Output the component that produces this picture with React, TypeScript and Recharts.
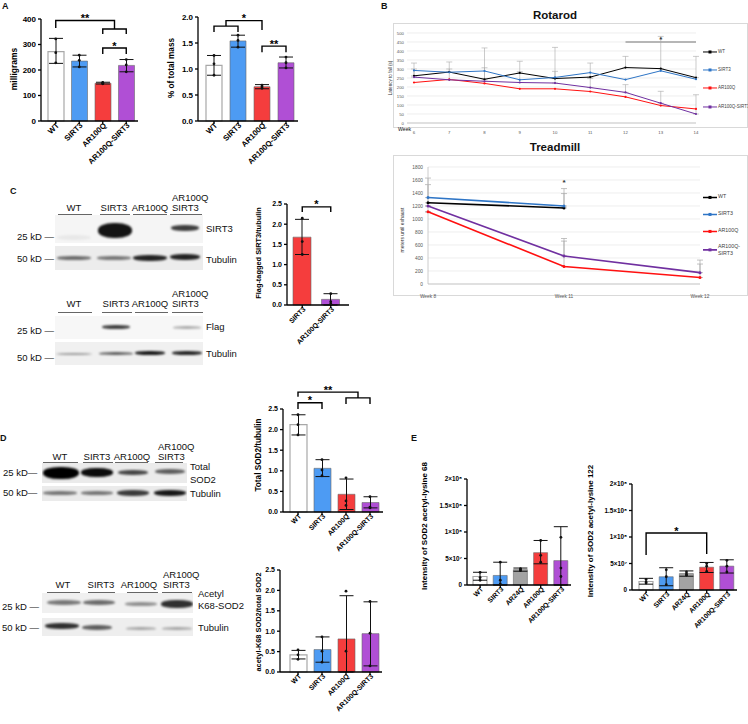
import React from 'react'
import {
  Bar,
  CartesianGrid,
  Cell,
  ComposedChart,
  ErrorBar,
  Line,
  LineChart,
  ReferenceDot,
  ReferenceLine,
  XAxis,
  YAxis,
} from 'recharts'

const FONT = '"Liberation Sans", Arial, Helvetica, sans-serif'

const WHITE = '#ffffff'
const BLUE = '#4d9bf3'
const RED = '#f53d3d'
const PURPLE = '#b04fd5'
const GREY = '#a3a3a3'

// A: muscle mass
const groups4 = ['WT', 'SIRT3', 'AR100Q', 'AR100Q-SIRT3']
const colors4 = [WHITE, BLUE, RED, PURPLE]
const massMean = [272, 235, 148, 218]
const massLo = [226, 212, 145, 193]
const massHi = [324, 258, 152, 241]
const massPts = [[322, 268, 228], [258, 238, 212], [151, 148, 146], [241, 220, 193]]
const massTicks = [0, 100, 200, 300, 400]

const pctMean = [1.07, 1.54, 0.66, 1.12]
const pctLo = [0.88, 1.42, 0.62, 1.02]
const pctHi = [1.26, 1.65, 0.7, 1.23]
const pctPts = [[1.26, 1.1, 0.88], [1.65, 1.55, 1.42], [0.69, 0.66, 0.63], [1.23, 1.12, 1.02]]
const pctTicks = [0, 0.5, 1, 1.5, 2]

// B: rotarod / treadmill
const rotWeeks = ['6', '7', '8', '9', '10', '11', '12', '13', '14']
const rotWT = [262, 283, 243, 278, 247, 255, 308, 302, 252]
const rotSIRT3 = [292, 282, 289, 240, 253, 280, 241, 290, 243]
const rotAR100Q = [225, 242, 220, 190, 190, 175, 145, 97, 78]
const rotARS = [255, 240, 232, 225, 222, 197, 170, 110, 50]
const rotErrWT = [71, 56, 174, 65, 173, 78, 62, 179, 118]
const rotErrARS = [45, 60, 75, 60, 65, 50, 43, 66, 107]
const rotTicks = [0, 50, 100, 150, 200, 250, 300, 350, 400, 450, 500]

const trWeeks = ['Week 8', 'Week 11', 'Week 12']
const trWT = [1250, 1170, null]
const trSIRT3 = [1330, 1200, null]
const trAR100Q = [1110, 270, 100]
const trARS = [1200, 430, 175]
const trErrWT = [279, 221, 0]
const trErrSIRT3 = [300, 268, 0]
const trErrAR100Q = [0, 390, 207]
const trErrARS = [0, 270, 193]
const trTicks = [0, 200, 400, 600, 800, 1000, 1200, 1400, 1600, 1800]

// C: flag-tagged SIRT3
const groupsC = ['SIRT3', 'AR100Q-SIRT3']
const flagMean = [1.68, 0.14]
const flagLo = [1.25, 0.0]
const flagHi = [2.12, 0.28]
const flagPts = [[2.15, 1.57, 1.25], [0.28, 0.08, 0.03]]
const ratioTicks = [0, 0.5, 1, 1.5, 2, 2.5]

// D: SOD2
const sodMean = [2.12, 1.06, 0.43, 0.23]
const sodLo = [1.87, 0.86, 0.06, 0.1]
const sodHi = [2.36, 1.27, 0.8, 0.37]
const sodPts = [[2.36, 2.12, 1.87], [1.27, 1.02, 0.88], [0.83, 0.27, 0.16], [0.37, 0.12, 0.1]]

const ackMean = [0.42, 0.55, 0.81, 0.94]
const ackLo = [0.32, 0.24, 0, 0.15]
const ackHi = [0.53, 0.86, 1.87, 1.72]
const ackPts = [[0.54, 0.42, 0.31], [0.86, 0.51, 0.24], [1.98, 0.51, null], [1.73, 0.95, 0.15]]

// E: acetyl-lysine intensity
const groups5 = ['WT', 'SIRT3', 'AR24Q', 'AR100Q', 'AR100Q-SIRT3']
const colors5 = [WHITE, BLUE, GREY, RED, PURPLE]
const k68Mean = [1.6e7, 1.8e7, 2.9e7, 6.1e7, 4.6e7]
const k68Lo = [0.9e7, 0, 2.6e7, 4.0e7, 0]
const k68Hi = [2.4e7, 4.3e7, 3.2e7, 8.4e7, 11.0e7]
const k68Pts = [[2.4e7, 1.4e7, 0.9e7], [4.3e7, 0.9e7, 0.2e7], [3.1e7, 2.9e7, 2.7e7], [8.4e7, 5.6e7, 4.3e7], [9.0e7, 3.2e7, 1.6e7]]
const k122Mean = [1.6e7, 2.5e7, 3.1e7, 4.3e7, 4.5e7]
const k122Lo = [1.1e7, 0.8e7, 2.6e7, 3.3e7, 3.2e7]
const k122Hi = [2.2e7, 4.2e7, 3.6e7, 5.2e7, 5.7e7]
const k122Pts = [[2.0e7, 1.5e7, 1.3e7], [3.8e7, 2.5e7, 1.0e7], [3.4e7, 3.0e7, 2.8e7], [5.0e7, 4.5e7, 3.5e7], [5.6e7, 4.5e7, 3.4e7]]
const sciTicks = [0, 5e7, 1e8, 1.5e8, 2e8]
const sciLabels = ['0', '5×10⁷', '1×10⁸', '1.5×10⁸', '2×10⁸']

const fmt1 = (v: number) => v.toFixed(1)
const fmtInt = (v: number) => String(v)
const fmtSci = (v: number) => sciLabels[sciTicks.indexOf(v)] ?? ''

type Bracket = { a: number; b: number; y: number; da: number; db: number; label?: string }

function makeRows(cats: string[], mean: number[], lo: number[], hi: number[], pts: (number | null)[][]) {
  return cats.map((name, i) => ({
    name,
    mean: mean[i],
    err: [mean[i] - lo[i], hi[i] - mean[i]],
    p0: pts[i][0] ?? null,
    p1: pts[i][1] ?? null,
    p2: pts[i][2] ?? null,
  }))
}

function RotTick(props: any) {
  const { x, y, payload, fs } = props
  const tx = x + 2
  const ty = y - 2
  return (
    <text
      x={tx}
      y={ty}
      dy="0.35em"
      transform={`rotate(-45 ${tx} ${ty})`}
      textAnchor="end"
      fontSize={fs}
      fontWeight={700}
      fontFamily={FONT}
      fill="#000"
    >
      {payload.value}
    </text>
  )
}

interface BarPanelProps {
  left: number
  top: number
  w: number
  h: number
  padL: number
  padR: number
  cats: string[]
  colors: string[]
  mean: number[]
  lo: number[]
  hi: number[]
  pts: (number | null)[][]
  max: number
  ticks: number[]
  fmt: (v: number) => string
  barSize: number
  fs: number
  xfs: number
  brackets?: Bracket[]
}

function BarPanel(p: BarPanelProps) {
  const YW = 44
  const MT = 34
  const MR = 10
  const XH = 80
  const W = YW + p.w + MR
  const H = MT + p.h + XH
  const rows = makeRows(p.cats, p.mean, p.lo, p.hi, p.pts)
  const band = (p.w - p.padL - p.padR) / p.cats.length
  const bx = (i: number) => YW + p.padL + (i + 0.5) * band
  const by = (v: number) => MT + p.h * (1 - v / p.max)
  return (
    <div style={{ position: 'absolute', left: p.left - YW, top: p.top - MT, width: W, height: H }}>
      <ComposedChart width={W} height={H} data={rows} margin={{ top: MT, right: MR, bottom: 0, left: 0 }}>
        <XAxis
          dataKey="name"
          interval={0}
          height={XH}
          padding={{ left: p.padL, right: p.padR }}
          tickSize={3}
          axisLine={{ stroke: '#000', strokeWidth: 1.3 }}
          tickLine={{ stroke: '#000', strokeWidth: 1.3 }}
          tick={<RotTick fs={p.xfs} />}
        />
        <YAxis
          width={YW}
          domain={[0, p.max]}
          ticks={p.ticks}
          interval={0}
          tickFormatter={p.fmt}
          tickSize={3}
          tickMargin={2}
          axisLine={{ stroke: '#000', strokeWidth: 1.3 }}
          tickLine={{ stroke: '#000', strokeWidth: 1.3 }}
          tick={{ fontSize: p.fs, fontWeight: 700, fill: '#000', fontFamily: FONT }}
        />
        <Bar dataKey="mean" barSize={p.barSize} isAnimationActive={false}>
          {rows.map((r, i) => (
            <Cell
              key={r.name}
              fill={p.colors[i]}
              stroke={p.colors[i] === WHITE ? '#a8a8a8' : '#6a6a6a'}
              strokeWidth={p.colors[i] === WHITE ? 1.2 : 0.6}
            />
          ))}
          <ErrorBar dataKey="err" direction="y" width={7} stroke="#111" strokeWidth={1} />
        </Bar>
        {['p0', 'p1', 'p2'].map((k) => (
          <Line
            key={k}
            dataKey={k}
            stroke="none"
            dot={{ r: 1.4, fill: '#111', stroke: 'none' }}
            activeDot={false}
            legendType="none"
            isAnimationActive={false}
          />
        ))}
      </ComposedChart>
      <svg width={W} height={H} style={{ position: 'absolute', left: 0, top: 0, overflow: 'visible', pointerEvents: 'none' }}>
        {(p.brackets ?? []).map((b, i) => (
          <g key={i}>
            <path
              d={`M${bx(b.a)},${by(b.da)} V${by(b.y)} H${bx(b.b)} V${by(b.db)}`}
              fill="none"
              stroke="#000"
              strokeWidth={1.4}
            />
            {b.label && (
              <text
                x={(bx(b.a) + bx(b.b)) / 2}
                y={by(b.y) + 1.5}
                textAnchor="middle"
                fontSize={11}
                fontWeight={700}
                fontFamily={FONT}
              >
                {b.label}
              </text>
            )}
          </g>
        ))}
      </svg>
    </div>
  )
}

function T({ x, y, children, fs = 9.5, bold = false, center = false }: any) {
  return (
    <div
      style={{
        position: 'absolute',
        left: x,
        top: y,
        transform: center ? 'translate(-50%,-50%)' : 'translateY(-50%)',
        fontSize: fs,
        fontWeight: bold ? 700 : 400,
        lineHeight: 1,
        whiteSpace: 'nowrap',
        color: '#111',
      }}
    >
      {children}
    </div>
  )
}

function VLabel({ cx, cy, text, fs, bold = true, color = '#000' }: any) {
  return (
    <div
      style={{
        position: 'absolute',
        left: cx,
        top: cy,
        transform: 'translate(-50%,-50%) rotate(-90deg)',
        fontSize: fs,
        fontWeight: bold ? 700 : 400,
        whiteSpace: 'nowrap',
        lineHeight: 1,
        color,
      }}
    >
      {text}
    </div>
  )
}

function Rule({ x1, x2, y }: any) {
  return <div style={{ position: 'absolute', left: x1, top: y, width: x2 - x1, borderTop: '1px solid #666' }} />
}

// band = [cx, cy, width, height, darkness]
function Strip({ x, y, w, h, bg, bands }: { x: number; y: number; w: number; h: number; bg: string; bands: number[][] }) {
  return (
    <div style={{ position: 'absolute', left: x, top: y, width: w, height: h, background: bg, overflow: 'hidden' }}>
      {bands.map(([cx, cy, bw, bh, d], i) => (
        <div
          key={i}
          style={{
            position: 'absolute',
            left: cx - bw / 2 - x,
            top: cy - bh / 2 - y,
            width: bw,
            height: bh,
            background: `rgba(0,0,0,${d})`,
            borderRadius: '45%',
            filter: 'blur(1.3px)',
          }}
        />
      ))}
    </div>
  )
}

function LegendKey({ x, y, color, fs, lw, children }: any) {
  return (
    <div
      style={{
        position: 'absolute',
        left: x,
        top: y,
        transform: 'translateY(-50%)',
        display: 'flex',
        alignItems: 'center',
        gap: 1,
        fontSize: fs,
        color: '#404040',
        lineHeight: 1.35,
        whiteSpace: 'nowrap',
      }}
    >
      <svg width={14} height={6} style={{ flex: 'none' }}>
        <line x1={0} x2={14} y1={3} y2={3} stroke={color} strokeWidth={lw} />
        <rect x={5.5} y={1.5} width={3} height={3} fill={color} />
      </svg>
      <span>{children}</span>
    </div>
  )
}

function StarShape(props: any) {
  return (
    <text x={props.cx} y={props.cy + 4} textAnchor="middle" fontSize={8} fontWeight={700} fill="#333" fontFamily={FONT}>
      *
    </text>
  )
}

const rotRows = rotWeeks.map((week, i) => ({
  week,
  WT: rotWT[i],
  SIRT3: rotSIRT3[i],
  AR100Q: rotAR100Q[i],
  ARS: rotARS[i],
  eWT: [0, rotErrWT[i]],
  eARS: [0, rotErrARS[i]],
}))

const trRows = trWeeks.map((week, i) => ({
  week,
  WT: trWT[i],
  SIRT3: trSIRT3[i],
  AR100Q: trAR100Q[i],
  ARS: trARS[i],
  eWT: [0, trErrWT[i]],
  eSIRT3: [0, trErrSIRT3[i]],
  eAR100Q: [0, trErrAR100Q[i]],
  eARS: [0, trErrARS[i]],
}))

const LINE_COLORS = { WT: '#000000', SIRT3: '#2e75c6', AR100Q: '#ff1010', ARS: '#7030a0' }

function Rotarod() {
  const axisTick = { fontSize: 4.3, fill: '#555', fontFamily: FONT }
  return (
    <>
      <div style={{ position: 'absolute', left: 393, top: 23, width: 355, height: 105, border: '1px solid #d9d9d9', boxSizing: 'border-box' }} />
      <div style={{ position: 'absolute', left: 393, top: 23 }}>
        <LineChart width={355} height={112} data={rotRows} margin={{ top: 10, right: 52, left: 0, bottom: 0 }}>
          <CartesianGrid vertical={false} stroke="#e2e2e2" strokeWidth={0.6} />
          <XAxis
            dataKey="week"
            interval={0}
            height={12}
            padding={{ left: 7, right: 0 }}
            tickLine={false}
            tickMargin={2}
            axisLine={{ stroke: '#bfbfbf', strokeWidth: 0.8 }}
            tick={axisTick}
          />
          <YAxis
            width={14}
            domain={[0, 500]}
            ticks={rotTicks}
            interval={0}
            axisLine={false}
            tickLine={false}
            tickSize={0}
            tickMargin={3}
            tick={axisTick}
          />
          <ReferenceLine
            segment={[{ x: '12', y: 450 }, { x: '14', y: 450 }]}
            stroke="#555"
            strokeWidth={0.8}
            ifOverflow="visible"
          />
          <ReferenceDot x="13" y={470} r={1} shape={StarShape} ifOverflow="visible" />
          <Line dataKey="WT" stroke={LINE_COLORS.WT} strokeWidth={1} dot={{ r: 1.1, fill: LINE_COLORS.WT, stroke: 'none' }} isAnimationActive={false}>
            <ErrorBar dataKey="eWT" direction="y" width={3} stroke="#a8a8a8" strokeWidth={0.6} />
          </Line>
          <Line dataKey="SIRT3" stroke={LINE_COLORS.SIRT3} strokeWidth={1} dot={{ r: 1.1, fill: LINE_COLORS.SIRT3, stroke: 'none' }} isAnimationActive={false} />
          <Line dataKey="AR100Q" stroke={LINE_COLORS.AR100Q} strokeWidth={1} dot={{ r: 1.1, fill: LINE_COLORS.AR100Q, stroke: 'none' }} isAnimationActive={false} />
          <Line dataKey="ARS" stroke={LINE_COLORS.ARS} strokeWidth={1} dot={{ r: 1.1, fill: LINE_COLORS.ARS, stroke: 'none' }} isAnimationActive={false}>
            <ErrorBar dataKey="eARS" direction="y" width={3} stroke="#a8a8a8" strokeWidth={0.6} />
          </Line>
        </LineChart>
      </div>
      <T x={398} y={130} fs={5.2}>Week</T>
      <VLabel cx={391} cy={78} text="Latency to fall (s)" fs={4.5} bold={false} color="#333" />
      <LegendKey x={703} y={52} color={LINE_COLORS.WT} fs={4.5} lw={1}>WT</LegendKey>
      <LegendKey x={703} y={70} color={LINE_COLORS.SIRT3} fs={4.5} lw={1}>SIRT3</LegendKey>
      <LegendKey x={703} y={88} color={LINE_COLORS.AR100Q} fs={4.5} lw={1}>AR100Q</LegendKey>
      <LegendKey x={703} y={107} color={LINE_COLORS.ARS} fs={4.5} lw={1}>AR100Q-SIRT3</LegendKey>
    </>
  )
}

function Treadmill() {
  const axisTick = { fontSize: 4.8, fill: '#555', fontFamily: FONT }
  return (
    <>
      <div style={{ position: 'absolute', left: 393, top: 155, width: 355, height: 141, border: '1px solid #d9d9d9', boxSizing: 'border-box' }} />
      <div style={{ position: 'absolute', left: 393, top: 155 }}>
        <LineChart width={355} height={149} data={trRows} margin={{ top: 12, right: 48, left: 0, bottom: 0 }}>
          <CartesianGrid vertical={false} stroke="#e2e2e2" strokeWidth={0.6} />
          <XAxis
            dataKey="week"
            interval={0}
            height={20}
            tickLine={false}
            tickMargin={5}
            axisLine={{ stroke: '#bfbfbf', strokeWidth: 0.8 }}
            tick={axisTick}
          />
          <YAxis
            width={35}
            domain={[0, 1800]}
            ticks={trTicks}
            interval={0}
            axisLine={{ stroke: '#bfbfbf', strokeWidth: 0.8 }}
            tickLine={false}
            tickSize={0}
            tickMargin={5}
            tick={axisTick}
          />
          <ReferenceDot x="Week 11" y={1590} r={1} shape={StarShape} ifOverflow="visible" />
          <Line dataKey="WT" stroke={LINE_COLORS.WT} strokeWidth={1.6} dot={{ r: 1.5, fill: LINE_COLORS.WT, stroke: 'none' }} isAnimationActive={false}>
            <ErrorBar dataKey="eWT" direction="y" width={3} stroke="#a8a8a8" strokeWidth={0.7} />
          </Line>
          <Line dataKey="SIRT3" stroke={LINE_COLORS.SIRT3} strokeWidth={1.6} dot={{ r: 1.5, fill: LINE_COLORS.SIRT3, stroke: 'none' }} isAnimationActive={false}>
            <ErrorBar dataKey="eSIRT3" direction="y" width={3} stroke="#a8a8a8" strokeWidth={0.7} />
          </Line>
          <Line dataKey="AR100Q" stroke={LINE_COLORS.AR100Q} strokeWidth={1.6} dot={{ r: 1.5, fill: LINE_COLORS.AR100Q, stroke: 'none' }} isAnimationActive={false}>
            <ErrorBar dataKey="eAR100Q" direction="y" width={3} stroke="#a8a8a8" strokeWidth={0.7} />
          </Line>
          <Line dataKey="ARS" stroke={LINE_COLORS.ARS} strokeWidth={1.6} dot={{ r: 1.5, fill: LINE_COLORS.ARS, stroke: 'none' }} isAnimationActive={false}>
            <ErrorBar dataKey="eARS" direction="y" width={3} stroke="#a8a8a8" strokeWidth={0.7} />
          </Line>
        </LineChart>
      </div>
      <VLabel cx={402} cy={230} text="meters until exhaust" fs={5} bold={false} color="#333" />
      <LegendKey x={703} y={197} color={LINE_COLORS.WT} fs={5.3} lw={1.6}>WT</LegendKey>
      <LegendKey x={703} y={214} color={LINE_COLORS.SIRT3} fs={5.3} lw={1.6}>SIRT3</LegendKey>
      <LegendKey x={703} y={231} color={LINE_COLORS.AR100Q} fs={5.3} lw={1.6}>AR100Q</LegendKey>
      <LegendKey x={703} y={250} color={LINE_COLORS.ARS} fs={5.3} lw={1.6}>
        AR100Q-
        <br />
        SIRT3
      </LegendKey>
    </>
  )
}

function LaneLabels({ y, cols, stackX, rules, ruleY }: any) {
  return (
    <>
      {cols.map(([cx, text]: [number, string]) => (
        <T key={text} x={cx} y={y} center>
          {text}
        </T>
      ))}
      <T x={stackX} y={y - 10}>AR100Q</T>
      <T x={stackX} y={y}>SIRT3</T>
      {rules.map(([a, b]: number[]) => (
        <Rule key={a} x1={a} x2={b} y={ruleY} />
      ))}
    </>
  )
}

export default function App() {
  return (
    <div
      style={{
        position: 'absolute',
        left: 0,
        top: 0,
        width: 748,
        height: 724,
        background: '#fff',
        fontFamily: FONT,
        overflow: 'hidden',
      }}
    >
      {/* panel letters */}
      <T x={2} y={6} fs={9} bold>A</T>
      <T x={381} y={6} fs={9} bold>B</T>
      <T x={10} y={191} fs={9} bold>C</T>
      <T x={0} y={438} fs={9} bold>D</T>
      <T x={411} y={438} fs={9} bold>E</T>

      {/* A */}
      <BarPanel
        left={41} top={19} w={97} h={102} padL={3} padR={0}
        cats={groups4} colors={colors4} mean={massMean} lo={massLo} hi={massHi} pts={massPts}
        max={400} ticks={massTicks} fmt={fmtInt} barSize={16} fs={8} xfs={7.8}
        brackets={[
          { a: 0, b: 2.5, y: 394, da: 365, db: 361, label: '**' },
          { a: 2, b: 3, y: 361, da: 341, db: 341 },
          { a: 2, b: 3, y: 286, da: 263, db: 263, label: '*' },
        ]}
      />
      <VLabel cx={14} cy={69} text="milligrams" fs={8.5} />
      <BarPanel
        left={198} top={17} w={100} h={104} padL={4} padR={0}
        cats={groups4} colors={colors4} mean={pctMean} lo={pctLo} hi={pctHi} pts={pctPts}
        max={2} ticks={pctTicks} fmt={fmt1} barSize={16} fs={8} xfs={7.8}
        brackets={[
          { a: 0.5, b: 2, y: 1.93, da: 1.825, db: 1.75, label: '*' },
          { a: 0, b: 1, y: 1.825, da: 1.71, db: 1.71 },
          { a: 2, b: 3, y: 1.44, da: 1.32, db: 1.32, label: '**' },
        ]}
      />
      <VLabel cx={172} cy={68} text="% of total mass" fs={8.2} />

      {/* B */}
      <T x={555} y={16} fs={11.5} bold center>Rotarod</T>
      <Rotarod />
      <T x={555} y={148} fs={11.5} bold center>Treadmill</T>
      <Treadmill />

      {/* C blots */}
      <LaneLabels y={208} cols={[[74, 'WT'], [114, 'SIRT3'], [150, 'AR100Q']]} stackX={172}
        rules={[[58, 92], [100, 130], [133, 167], [170, 202]]} ruleY={214} />
      <Strip x={55} y={215} w={148} h={28} bg="#f5f5f5"
        bands={[[74, 237, 34, 5, 0.05], [115, 230, 34, 15, 0.92], [185, 228, 28, 6, 0.75]]} />
      <Strip x={55} y={246} w={148} h={24} bg="#ececec"
        bands={[[74, 258, 34, 4, 0.55], [114, 258, 34, 4, 0.5], [150, 258, 34, 6, 0.85], [185, 257, 30, 6, 0.85]]} />
      <T x={17} y={237}>25 kD —</T>
      <T x={17} y={259}>50 kD —</T>
      <T x={206} y={229}>SIRT3</T>
      <T x={206} y={260}>Tubulin</T>

      <LaneLabels y={304} cols={[[74, 'WT'], [116, 'SIRT3'], [150, 'AR100Q']]} stackX={172}
        rules={[[58, 92], [102, 132], [135, 168], [172, 203]]} ruleY={312} />
      <Strip x={55} y={316} w={148} h={23} bg="#f7f7f7"
        bands={[[116, 327, 28, 4, 0.75], [187, 327, 28, 3, 0.3]]} />
      <Strip x={55} y={342} w={148} h={23} bg="#f0f0f0"
        bands={[[74, 354, 36, 2, 0.35], [116, 353, 34, 3, 0.6], [150, 353, 30, 4, 0.9], [187, 353, 30, 4, 0.85]]} />
      <T x={17} y={331}>25 kD —</T>
      <T x={17} y={358}>50 kD —</T>
      <T x={206} y={327}>Flag</T>
      <T x={206} y={354}>Tubulin</T>

      {/* C chart */}
      <BarPanel
        left={287} top={204} w={62} h={101} padL={1} padR={4}
        cats={groupsC} colors={[RED, PURPLE]} mean={flagMean} lo={flagLo} hi={flagHi} pts={flagPts}
        max={2.5} ticks={ratioTicks} fmt={fmt1} barSize={18} fs={7} xfs={7}
        brackets={[{ a: 0, b: 1, y: 2.43, da: 2.3, db: 2.3, label: '*' }]}
      />
      <VLabel cx={259} cy={253} text="Flag-tagged SIRT3/tubulin" fs={7.4} />

      {/* D blots */}
      <LaneLabels y={457} cols={[[60, 'WT'], [97, 'SIRT3'], [132, 'AR100Q']]} stackX={158}
        rules={[[43, 78], [83, 113], [115, 148], [155, 183]]} ruleY={462} />
      <Strip x={42} y={463} w={145} h={20} bg="#ebebeb"
        bands={[[61, 473, 36, 12, 1], [97, 472, 32, 9, 0.95], [133, 472, 30, 5, 0.7], [170, 471, 30, 5, 0.6]]} />
      <Strip x={42} y={486} w={145} h={15} bg="#ebebeb"
        bands={[[60, 493, 34, 4, 0.5], [97, 493, 32, 4, 0.5], [133, 493, 32, 6, 0.75], [170, 493, 32, 6, 0.9]]} />
      <T x={3} y={473}>25 kD—</T>
      <T x={3} y={493}>50 kD—</T>
      <T x={190} y={467}>Total</T>
      <T x={190} y={480}>SOD2</T>
      <T x={190} y={494}>Tubulin</T>

      <LaneLabels y={585} cols={[[63, 'WT'], [101, 'SIRT3'], [139, 'AR100Q']]} stackX={163}
        rules={[[47, 80], [88, 115], [127, 158], [162, 192]]} ruleY={592} />
      <Strip x={42} y={593} w={151} h={20} bg="#f0f0f0"
        bands={[[64, 602, 34, 5, 0.5], [99, 602, 32, 5, 0.55], [141, 604, 32, 4, 0.4], [177, 604, 32, 8, 0.8]]} />
      <Strip x={42} y={618} w={151} h={18} bg="#eeeeee"
        bands={[[62, 626, 34, 6, 0.8], [97, 627, 30, 5, 0.6], [141, 628, 30, 3, 0.3], [177, 628, 30, 3, 0.3]]} />
      <T x={2} y={607}>25 kD —</T>
      <T x={2} y={628}>50 kD —</T>
      <T x={198} y={594}>Acetyl</T>
      <T x={198} y={606}>K68-SOD2</T>
      <T x={198} y={628}>Tubulin</T>

      {/* D charts */}
      <BarPanel
        left={283} top={409} w={100} h={103} padL={3} padR={1}
        cats={groups4} colors={colors4} mean={sodMean} lo={sodLo} hi={sodHi} pts={sodPts}
        max={2.5} ticks={ratioTicks} fmt={fmt1} barSize={17} fs={7} xfs={7}
        brackets={[
          { a: 0, b: 2.5, y: 2.91, da: 2.8, db: 2.77, label: '**' },
          { a: 2, b: 3, y: 2.77, da: 2.62, db: 2.62 },
          { a: 0, b: 1, y: 2.65, da: 2.5, db: 2.5, label: '*' },
        ]}
      />
      <VLabel cx={259} cy={455} text="Total SOD2/tubulin" fs={8.2} />
      <BarPanel
        left={280} top={570} w={102} h={102} padL={6} padR={0}
        cats={groups4} colors={colors4} mean={ackMean} lo={ackLo} hi={ackHi} pts={ackPts}
        max={2.5} ticks={ratioTicks} fmt={fmt1} barSize={17} fs={7} xfs={7}
      />
      <VLabel cx={259} cy={622} text="acetyl-K68 SOD2/total SOD2" fs={7.4} />

      {/* E */}
      <BarPanel
        left={467} top={479} w={104} h={106} padL={3} padR={0}
        cats={groups5} colors={colors5} mean={k68Mean} lo={k68Lo} hi={k68Hi} pts={k68Pts}
        max={2e8} ticks={sciTicks} fmt={fmtSci} barSize={14} fs={6.3} xfs={6.8}
      />
      <VLabel cx={425} cy={526} text="Intensity of SOD2 acetyl-lysine 68" fs={8} />
      <BarPanel
        left={632} top={484} w={105} h={106} padL={4} padR={0}
        cats={groups5} colors={colors5} mean={k122Mean} lo={k122Lo} hi={k122Hi} pts={k122Pts}
        max={2e8} ticks={sciTicks} fmt={fmtSci} barSize={14} fs={6.3} xfs={6.8}
        brackets={[{ a: 0, b: 3, y: 1.075e8, da: 0.66e8, db: 0.68e8, label: '*' }]}
      />
      <VLabel cx={591} cy={531} text="Intensity of SOD2 acetyl-lysine 122" fs={8} />
    </div>
  )
}
